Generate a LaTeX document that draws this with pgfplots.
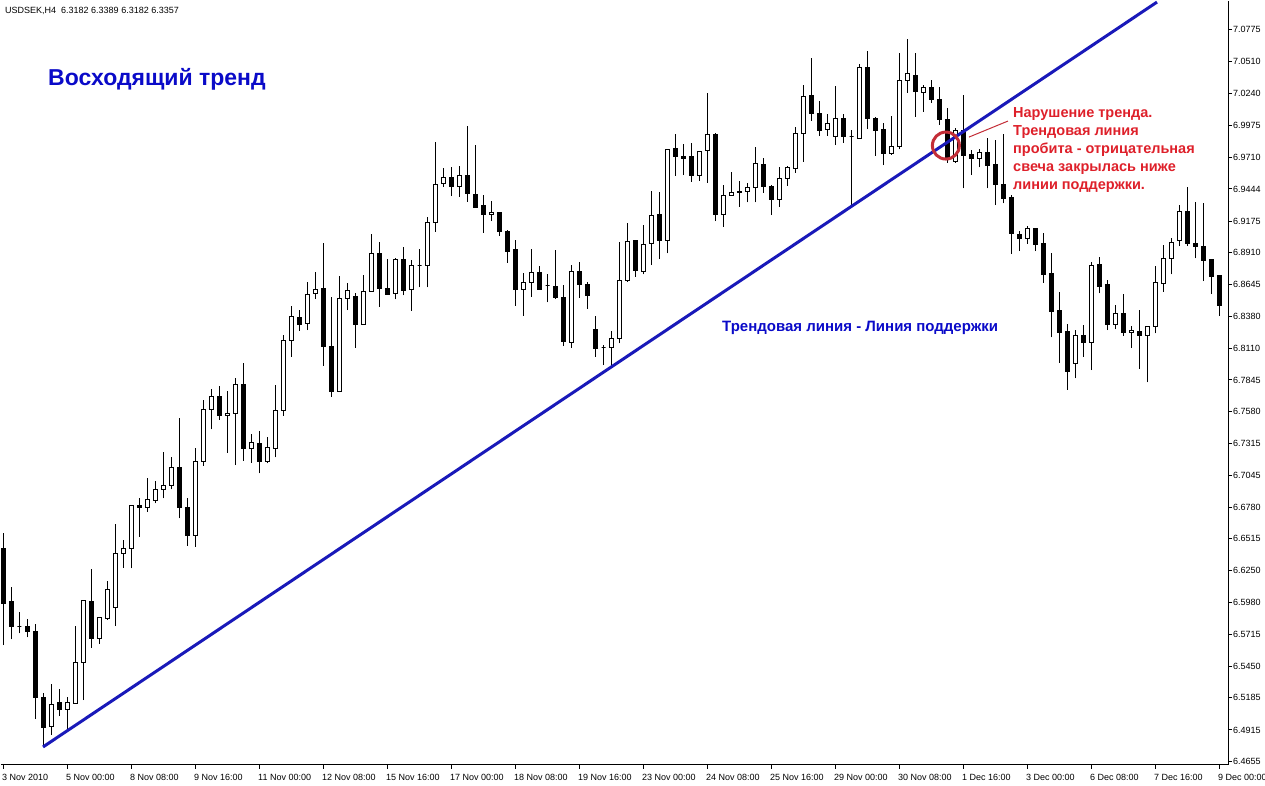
\documentclass[border=0pt]{standalone}
\usepackage{pgfplots}
\pgfplotsset{compat=1.18}
\usepackage{pgfplotstable}
\usepackage{fontspec}
\setmainfont{Liberation Sans}
\definecolor{lineblue}{RGB}{25,25,185}
\definecolor{txtblue}{RGB}{10,10,200}
\definecolor{txtred}{RGB}{222,32,42}
\definecolor{circred}{RGB}{195,45,55}

\pgfplotstableread{
k o h l c
0 6.6436 6.6561 6.5626 6.5975
1 6.5989 6.6114 6.5674 6.5779
2 6.5785 6.5905 6.5724 6.5785
3 6.5785 6.5844 6.5691 6.5741
4 6.5743 6.5802 6.5007 6.5189
5 6.5191 6.5227 6.4773 6.4934
6 6.4942 6.5300 6.4873 6.5132
7 6.5141 6.5258 6.5032 6.5085
8 6.5088 6.5194 6.4909 6.5141
9 6.5138 6.5785 6.5138 6.5482
10 6.5478 6.5995 6.5166 6.5995
11 6.5989 6.6260 6.5604 6.5682
12 6.5682 6.5861 6.5637 6.5858
13 6.5850 6.6162 6.5836 6.6087
14 6.5938 6.6639 6.5785 6.6394
15 6.6394 6.6505 6.6271 6.6434
16 6.6436 6.6798 6.6268 6.6790
17 6.6792 6.6854 6.6533 6.6779
18 6.6779 6.7022 6.6742 6.6846
19 6.6840 6.6999 6.6812 6.6924
20 6.6924 6.7239 6.6854 6.6963
21 6.6963 6.7197 6.6930 6.7116
22 6.7116 6.7524 6.6687 6.6776
23 6.6779 6.6854 6.6457 6.6541
24 6.6545 6.7273 6.6449 6.7164
25 6.7164 6.7677 6.7127 6.7599
26 6.7599 6.7767 6.7432 6.7708
27 6.7708 6.7794 6.7510 6.7549
28 6.7549 6.7752 6.7236 6.7566
29 6.7566 6.7865 6.7133 6.7803
30 6.7803 6.7989 6.7169 6.7269
31 6.7269 6.7392 6.7152 6.7323
32 6.7315 6.7420 6.7063 6.7164
33 6.7164 6.7370 6.7147 6.7281
34 6.7269 6.7803 6.7197 6.7591
35 6.7587 6.8221 6.7546 6.8177
36 6.8177 6.8464 6.8039 6.8377
37 6.8369 6.8430 6.8257 6.8311
38 6.8316 6.8665 6.8263 6.8564
39 6.8567 6.8751 6.8522 6.8606
40 6.8614 6.8994 6.7964 6.8123
41 6.8129 6.8542 6.7705 6.7746
42 6.7752 6.8715 6.7746 6.8528
43 6.8528 6.8659 6.8430 6.8595
44 6.8547 6.8575 6.8115 6.8311
45 6.8311 6.8726 6.8311 6.8589
46 6.8583 6.9066 6.8583 6.8905
47 6.8905 6.8999 6.8458 6.8612
48 6.8612 6.8857 6.8562 6.8562
49 6.8570 6.8863 6.8520 6.8855
50 6.8855 6.8955 6.8553 6.8592
51 6.8604 6.8849 6.8424 6.8804
52 6.8801 6.8938 6.8620 6.8801
53 6.8804 6.9211 6.8620 6.9164
54 6.9164 6.9834 6.9086 6.9482
55 6.9491 6.9616 6.9462 6.9541
56 6.9541 6.9625 6.9384 6.9462
57 6.9462 6.9636 6.9379 6.9558
58 6.9558 6.9970 6.9337 6.9407
59 6.9401 6.9811 6.9290 6.9290
60 6.9307 6.9393 6.9077 6.9231
61 6.9231 6.9343 6.9175 6.9248
62 6.9248 6.9248 6.9050 6.9086
63 6.9091 6.9100 6.8826 6.8918
64 6.8938 6.9016 6.8464 6.8606
65 6.8606 6.8737 6.8383 6.8662
66 6.8659 6.8938 6.8542 6.8746
67 6.8746 6.8799 6.8598 6.8598
68 6.8634 6.8732 6.8495 6.8634
69 6.8631 6.8932 6.8522 6.8533
70 6.8537 6.8640 6.8129 6.8165
71 6.8157 6.8807 6.8115 6.8751
72 6.8751 6.8830 6.8533 6.8645
73 6.8640 6.8667 6.8439 6.8550
74 6.8269 6.8380 6.8039 6.8106
75 6.8115 6.8137 6.7970 6.8115
76 6.8115 6.8254 6.7956 6.8190
77 6.8190 6.8997 6.8151 6.8676
78 6.8676 6.9156 6.8667 6.9002
79 6.9014 6.9014 6.8709 6.8759
80 6.8751 6.9142 6.8729 6.8980
81 6.8989 6.9426 6.8807 6.9223
82 6.9231 6.9415 6.8857 6.9010
83 6.9010 6.9775 6.8905 6.9775
84 6.9784 6.9901 6.9554 6.9713
85 6.9719 6.9820 6.9560 6.9697
86 6.9719 6.9825 6.9504 6.9554
87 6.9554 6.9759 6.9512 6.9759
88 6.9767 7.0249 6.9496 6.9901
89 6.9903 6.9909 6.9175 6.9228
90 6.9231 6.9477 6.9127 6.9390
91 6.9387 6.9583 6.9387 6.9415
92 6.9420 6.9510 6.9295 6.9412
93 6.9420 6.9491 6.9332 6.9457
94 6.9457 6.9797 6.9332 6.9658
95 6.9652 6.9700 6.9412 6.9462
96 6.9468 6.9477 6.9225 6.9359
97 6.9353 6.9630 6.9295 6.9535
98 6.9533 6.9636 6.9471 6.9625
99 6.9616 6.9959 6.9579 6.9909
100 6.9909 7.0314 6.9672 7.0221
101 7.0230 7.0537 7.0015 7.0077
102 7.0077 7.0180 6.9887 6.9937
103 6.9943 7.0068 6.9887 6.9993
104 6.9881 7.0305 6.9811 7.0035
105 7.0035 7.0068 6.9831 6.9881
106 6.9881 6.9937 6.9295 6.9881
107 6.9867 7.0487 6.9867 7.0462
108 7.0462 7.0598 6.9945 7.0035
109 7.0035 7.0043 6.9722 6.9937
110 6.9943 6.9998 6.9644 6.9742
111 6.9742 7.0054 6.9728 6.9797
112 6.9797 7.0579 6.9775 7.0355
113 7.0349 7.0696 7.0249 7.0406
114 7.0397 7.0579 7.0048 7.0257
115 7.0249 7.0314 7.0090 7.0294
116 7.0294 7.0355 7.0165 7.0194
117 7.0196 7.0294 6.9979 7.0021
118 7.0026 7.0118 6.9663 6.9700
119 6.9672 6.9956 6.9663 6.9937
120 6.9937 7.0230 6.9449 6.9722
121 6.9728 6.9769 6.9560 6.9700
122 6.9700 6.9775 6.9625 6.9750
123 6.9750 6.9867 6.9449 6.9644
124 6.9652 6.9853 6.9309 6.9481
125 6.9485 6.9903 6.9323 6.9362
126 6.9374 6.9393 6.8899 6.9072
127 6.9066 6.9091 6.8924 6.9027
128 6.9030 6.9133 6.8983 6.9114
129 6.9114 6.9114 6.8924 6.8980
130 6.8983 6.9072 6.8659 6.8729
131 6.8732 6.8910 6.8202 6.8416
132 6.8430 6.8578 6.7989 6.8244
133 6.8254 6.8313 6.7761 6.7914
134 6.7984 6.8263 6.7859 6.8221
135 6.8221 6.8305 6.8039 6.8157
136 6.8157 6.8835 6.7928 6.8807
137 6.8815 6.8876 6.8570 6.8625
138 6.8640 6.8681 6.8263 6.8305
139 6.8305 6.8472 6.8269 6.8403
140 6.8403 6.8564 6.8213 6.8240
141 6.8240 6.8296 6.8115 6.8260
142 6.8254 6.8430 6.7939 6.8218
143 6.8218 6.8296 6.7825 6.8296
144 6.8296 6.8799 6.8235 6.8662
145 6.8654 6.8974 6.8583 6.8863
146 6.8863 6.9030 6.8729 6.8997
147 6.9010 6.9309 6.8966 6.9259
148 6.9259 6.9462 6.8966 6.8983
149 6.8983 6.9332 6.8863 6.8960
150 6.8966 6.9323 6.8673 6.8843
151 6.8849 6.8849 6.8564 6.8715
152 6.8723 6.8723 6.8383 6.8472
}\candles

\begin{document}
\begin{tikzpicture}
\begin{axis}[
  scale only axis, width=1227pt, height=764pt,
  xmin=-0.3125, xmax=153.0625, ymin=6.4622, ymax=7.1017,
  axis x line*=bottom, axis y line*=right,
  axis line style={black, line width=1pt},
  tick align=outside, major tick length=4pt,
  tick style={black, line width=1pt},
  xtick={0,8,...,152},
  xticklabels={3 Nov 2010, 5 Nov 00:00, 8 Nov 08:00, 9 Nov 16:00, 11 Nov 00:00, 12 Nov 08:00, 15 Nov 16:00, 17 Nov 00:00, 18 Nov 08:00, 19 Nov 16:00, 23 Nov 00:00, 24 Nov 08:00, 25 Nov 16:00, 29 Nov 00:00, 30 Nov 08:00, 1 Dec 16:00, 3 Dec 00:00, 6 Dec 08:00, 7 Dec 16:00, 9 Dec 00:00},
  ytick={7.0775,7.0510,7.0240,6.9975,6.9710,6.9444,6.9175,6.8910,6.8645,6.8380,6.8110,6.7845,6.7580,6.7315,6.7045,6.6780,6.6515,6.6250,6.5980,6.5715,6.5450,6.5185,6.4915,6.4655},
  yticklabels={7.0775,7.0510,7.0240,6.9975,6.9710,6.9444,6.9175,6.8910,6.8645,6.8380,6.8110,6.7845,6.7580,6.7315,6.7045,6.6780,6.6515,6.6250,6.5980,6.5715,6.5450,6.5185,6.4915,6.4655},
  ticklabel style={font=\fontsize{9}{10}\selectfont, inner sep=0pt},
  xticklabel style={anchor=north west, xshift=-1.5pt},
  yticklabel style={anchor=west},
  xticklabel shift=5pt, yticklabel shift=1pt,
]
\foreach \i in {0,...,152}{
  \pgfplotstablegetelem{\i}{k}\of\candles \let\cK\pgfplotsretval
  \pgfplotstablegetelem{\i}{o}\of\candles \let\cO\pgfplotsretval
  \pgfplotstablegetelem{\i}{h}\of\candles \let\cH\pgfplotsretval
  \pgfplotstablegetelem{\i}{l}\of\candles \let\cL\pgfplotsretval
  \pgfplotstablegetelem{\i}{c}\of\candles \let\cC\pgfplotsretval
  \pgfmathsetmacro\xa{\cK-0.25}
  \pgfmathsetmacro\xb{\cK+0.25}
  \edef\tmp{%
    \noexpand\addplot[black, line width=1pt, forget plot] coordinates {(\cK,\cL) (\cK,\cH)};
    \noexpand\addplot[draw=black, line width=1pt, fill=\ifdim\cC pt<\cO pt black\else white\fi, forget plot] coordinates {(\xa,\cO) (\xb,\cO) (\xb,\cC) (\xa,\cC)} -- cycle;
  }\tmp
}
% trend line (support)
\addplot[lineblue, line width=3pt, forget plot] coordinates {(4.94,6.4773) (144.19,7.1008)};
% break marker
\addplot[only marks, mark=o, mark size=13.5pt, mark options={line width=3pt, draw=circred}, forget plot] coordinates {(117.8,6.9807)};
\addplot[circred, line width=1pt, forget plot] coordinates {(120.69,6.9878) (125.56,7.0012)};
\end{axis}
\node[anchor=base west, inner sep=0pt, font=\fontsize{9}{10}\selectfont] at (4pt,751pt) {USDSEK,H4\ \ 6.3182 6.3389 6.3182 6.3357};
\node[anchor=base west, inner sep=0pt, text=txtblue, font=\fontsize{23}{27}\selectfont\bfseries] at (47pt,679pt) {Восходящий тренд};
\node[anchor=base west, inner sep=0pt, text=txtblue, font=\fontsize{15}{17}\selectfont\bfseries] at (721pt,433pt) {Трендовая линия - Линия поддержки};
\begin{scope}[every node/.style={anchor=base west, inner sep=0pt, text=txtred, font=\fontsize{14.5}{17}\selectfont\bfseries}]
\node at (1012pt,647pt) {Нарушение тренда.};
\node at (1012pt,629pt) {Трендовая линия};
\node at (1012pt,611pt) {пробита - отрицательная};
\node at (1012pt,593pt) {свеча закрылась ниже};
\node at (1012pt,575pt) {линии поддержки.};
\end{scope}
\pgfresetboundingbox
\path[use as bounding box] (-1pt,-21pt) rectangle (1264pt,765pt);
\end{tikzpicture}
\end{document}
